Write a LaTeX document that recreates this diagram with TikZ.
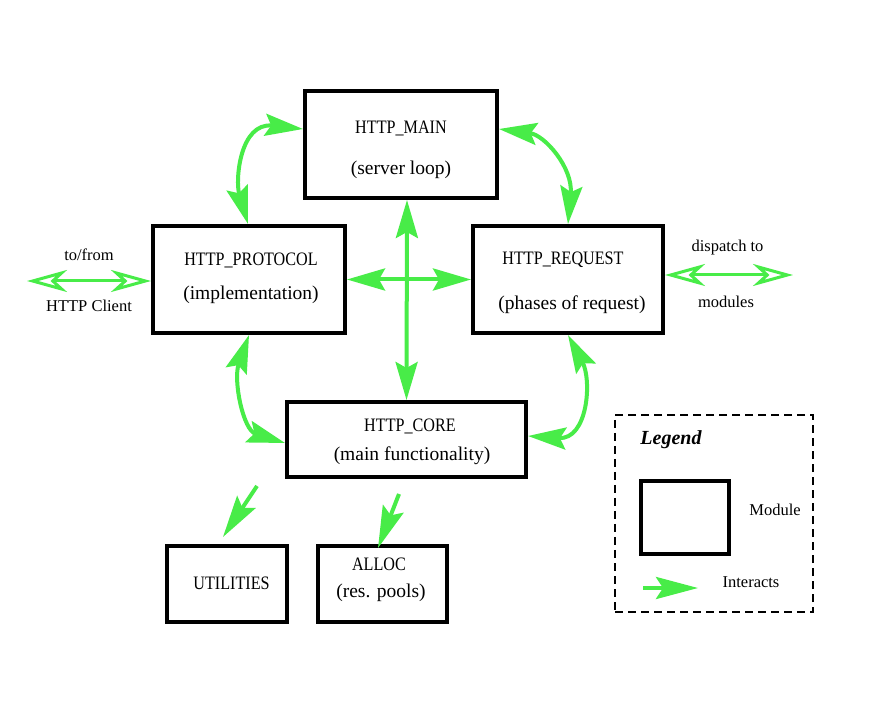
\documentclass[tikz,border=0pt]{standalone}
\usepackage{fontspec}
\setmainfont{Liberation Serif}
\newfontfamily\capsfont[FakeStretch=0.85]{Liberation Serif}
\usetikzlibrary{arrows.meta}
\definecolor{arrowgreen}{RGB}{72,236,72}
\newcommand{\capsz}{\capsfont\fontsize{19}{22}\selectfont}
\newcommand{\lowsz}{\fontsize{19.5}{23}\selectfont}
\newcommand{\sidesz}{\fontsize{16.5}{19}\selectfont}
\tikzset{
  box/.style={draw=black, line width=4pt, fill=white, inner sep=0pt},
  txt/.style={inner sep=0pt, anchor=center, text=black},
  link/.style={draw=arrowgreen, line width=4pt,
     {Stealth[length=38pt,width=22pt,inset=6pt]}-{Stealth[length=38pt,width=22pt,inset=6pt]}},
  onelink/.style={draw=arrowgreen, line width=4pt,
     -{Stealth[length=42pt,width=22pt,inset=7pt]}},
  extlink/.style={draw=arrowgreen, line width=3pt,
     {Stealth[open,length=40pt,width=22pt,inset=12pt]}-{Stealth[open,length=40pt,width=22pt,inset=12pt]}},
  legendframe/.style={draw=black, line width=2pt, dash pattern=on 8pt off 5pt}
}
\begin{document}
\begin{tikzpicture}[x=1pt,y=-1pt]
\useasboundingbox[fill=white] (0,0) rectangle (871,719);

% module boxes
\node[box, minimum width=192pt, minimum height=107pt] (main) at (401,144.5) {};
\node[box, minimum width=192pt, minimum height=107pt] (proto) at (249,279.5) {};
\node[box, minimum width=190pt, minimum height=107pt] (req) at (568,279.5) {};
\node[box, minimum width=239pt, minimum height=75pt] (core) at (406.5,439.5) {};
\node[box, minimum width=120pt, minimum height=76pt] (util) at (227,584) {};
\node[box, minimum width=129pt, minimum height=76pt] (alloc) at (382.5,584) {};

% texts
\node[txt] (mainA) at (401,128.5) {\capsz HTTP\_MAIN};
\node[txt] (mainB) at (401,170) {\lowsz (server loop)};
\node[txt] (protoA) at (251,260) {\capsz HTTP\_PROTOCOL};
\node[txt] (protoB) at (251,295) {\lowsz (implementation)};
\node[txt] (reqA) at (563,260) {\capsz HTTP\_REQUEST};
\node[txt] (reqB) at (572,305) {\lowsz (phases of request)};
\node[txt] (coreA) at (410,426.5) {\capsz HTTP\_CORE};
\node[txt] (coreB) at (412,456) {\lowsz (main functionality)};
\node[txt] (utilA) at (231.5,583) {\capsz UTILITIES};
\node[txt] (allocA) at (379,564) {\capsz ALLOC};
\node[txt] (allocB) at (381,593) {\lowsz (res. pools)};
\node[txt] (tofrom) at (89,255) {\sidesz to/from};
\node[txt] (client) at (89,306) {\sidesz HTTP Client};
\node[txt] (dispatch) at (727.5,247.5) {\sidesz dispatch to};
\node[txt] (modules) at (726,302) {\sidesz modules};

% interactions between modules
\draw[link] ([xshift=-1pt]proto.north) .. controls (235,180) and (240,122) .. ([yshift=15.5pt]main.west);
\draw[link] ([yshift=15.5pt]main.east) .. controls (545,135) and (573,168) .. (req.north);
\draw[link] (proto.south) .. controls (233,380) and (243,430) .. ([yshift=-3.5pt]core.west);
\draw[link] (req.south) .. controls (592,380) and (588,440) .. ([yshift=3.5pt]core.east);
\draw[link] ([xshift=6pt]main.south) -- (core.north);
\draw[link] (proto.east) -- (req.west);

% external interactions
\coordinate (clientend) at (27,281);
\coordinate (dispatchend) at (793,275);
\draw[extlink] (clientend) -- ([yshift=-1.5pt]proto.west);
\draw[extlink] ([yshift=4.5pt]req.east) -- (dispatchend);

% to utilities and alloc
\coordinate (u1) at (257,486);
\coordinate (u2) at (223,537);
\coordinate (a1) at (399,494);
\coordinate (a2) at (378,548);
\draw[onelink] (u1) -- (u2);
\draw[onelink] (a1) -- (a2);

% legend
\node[legendframe, minimum width=198pt, minimum height=197pt, inner sep=0pt] (legend) at (714,513.5) {};
\node[txt] (legendtitle) at (671,440) {\fontsize{20}{24}\selectfont\bfseries\itshape Legend};
\node[box, minimum width=88pt, minimum height=73pt] (legmod) at (685,517.5) {};
\node[txt] (legmodtxt) at (775,510) {\sidesz Module};
\coordinate (la1) at (643,588);
\coordinate (la2) at (698,588);
\draw[onelink] (la1) -- (la2);
\node[txt] (leginttxt) at (751,582) {\sidesz Interacts};
\end{tikzpicture}
\end{document}
